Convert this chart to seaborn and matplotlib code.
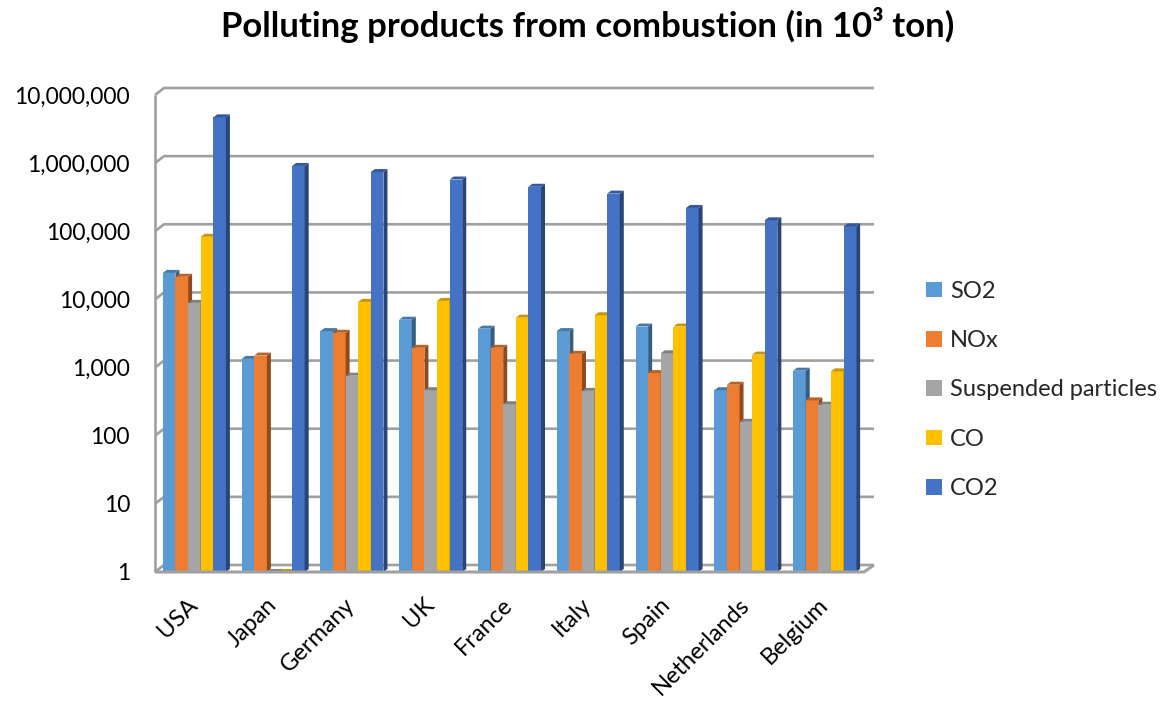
import numpy as np
import pandas as pd
import matplotlib
matplotlib.use("Agg")
import matplotlib.pyplot as plt
import matplotlib.colors as mcolors
from matplotlib.lines import Line2D
from matplotlib.patches import Polygon, Patch
from matplotlib.transforms import IdentityTransform
from matplotlib.ticker import NullLocator
import seaborn as sns

# ---- data (thousand tons) ----
countries = ["USA", "Japan", "Germany", "UK", "France", "Italy", "Spain",
             "Netherlands", "Belgium"]
pollutants = ["SO2", "NOx", "Suspended particles", "CO", "CO2"]
so2 = [24500, 1340, 3430, 5040, 3720, 3430, 4000, 465, 900]
nox = [21500, 1500, 3240, 1950, 1950, 1590, 830, 560, 330]
particles = [8900, 1, 760, 465, 290, 455, 1620, 160, 285]
co = [83000, 1, 9200, 9500, 5400, 5850, 4000, 1550, 880]
co2 = [4700000, 910000, 740000, 575000, 450000, 357000, 220000, 145000, 118000]
tick_values = [1, 10, 100, 1000, 10000, 100000, 1000000, 10000000]
tick_labels = ["1", "10", "100", "1,000", "10,000", "100,000", "1,000,000",
               "10,000,000"]
colors = ["#5B9BD5", "#ED7D31", "#A5A5A5", "#FFC000", "#4472C4"]

df = pd.DataFrame({
    "country": np.tile(countries, len(pollutants)),
    "pollutant": np.repeat(pollutants, len(countries)),
    "value": np.concatenate([so2, nox, particles, co, co2]),
})

sns.set_theme(style="white")
plt.rcParams["font.family"] = ["Lato", "DejaVu Sans"]

W, H = 1174, 702
fig = plt.figure(figsize=(W / 100, H / 100), dpi=100)
# front plane of the plot box, in pixels
left, right, bottom, top = 155, 864, 572, 95
ax = fig.add_axes([left / W, 1 - bottom / H, (right - left) / W, (bottom - top) / H])
ax.patch.set_visible(False)

sns.barplot(data=df, x="country", y="value", hue="pollutant",
            hue_order=pollutants, order=countries, palette=colors,
            width=0.8, saturation=1, log_scale=True, linewidth=0,
            legend=False, ax=ax)

ax.set_ylim(1, 1e7)
ax.set_xlim(-0.5, len(countries) - 0.5)
ax.yaxis.set_minor_locator(NullLocator())
ax.set_yticks(tick_values)
ax.set_yticklabels(tick_labels, fontsize=16.5, color="#000000")
ax.set_xticks(range(len(countries)))
ax.set_xticklabels(countries, rotation=45, ha="right", va="center",
                   rotation_mode="anchor", fontsize=17, color="#000000")
ax.tick_params(axis="y", length=0, pad=18)
ax.tick_params(axis="x", length=0, pad=21)
ax.set_xlabel("")
ax.set_ylabel("")
for s in ax.spines.values():
    s.set_visible(False)

to_px = ax.transData.transform
grid_c = "#A0A0A0"
gdx, gdy = 9, 7

def px_line(xs, ys, lw=1.9, z=1):
    ln = Line2D(xs, ys, color=grid_c, lw=lw, transform=IdentityTransform(),
                zorder=z, clip_on=False, solid_capstyle="butt")
    ax.add_line(ln)

# back wall gridlines with the diagonal wall edges on the left
x_front_l = to_px((-0.5, 1))[0]
x_front_r = to_px((len(countries) - 0.5, 1))[0]
for t in tick_values:
    yp = to_px((0, t))[1]
    px_line([x_front_l, x_front_l + gdx, x_front_r + gdx + 1],
            [yp, yp + gdy, yp + gdy])
y_lo = to_px((0, 1))[1]
y_hi = to_px((0, 1e7))[1]
px_line([x_front_l, x_front_l], [y_lo, y_hi])
# floor front edge and right corner
px_line([x_front_l, x_front_r, x_front_r + gdx + 1],
        [y_lo, y_lo, y_lo + gdy], lw=2.2, z=20)

# bars start at the floor value 1; shaded side and top faces give them depth
bdx, bdy = 4, 3
for i, cont in enumerate(ax.containers):
    base = np.array(mcolors.to_rgb(colors[i]))
    side_c = base * 0.6
    top_c = base * 0.78
    for bar in cont:
        bb = bar.get_bbox()
        xl, xr = min(bb.x0, bb.x1), max(bb.x0, bb.x1)
        yt = max(bb.y0, bb.y1, 1)
        bar.set_y(1)
        bar.set_height(yt - 1)
        bar.set_zorder(3 + 2 * i)
        pxl, pyt = to_px((xl, yt))
        pxr, pyb = to_px((xr, 1))
        side = Polygon([(pxr, pyb), (pxr + bdx, pyb + bdy), (pxr + bdx, pyt + bdy),
                        (pxr, pyt)], closed=True, facecolor=side_c, edgecolor="none",
                       transform=IdentityTransform(), zorder=4 + 2 * i, clip_on=False)
        cap = Polygon([(pxl, pyt), (pxl + bdx, pyt + bdy), (pxr + bdx, pyt + bdy),
                       (pxr, pyt)], closed=True, facecolor=top_c, edgecolor="none",
                      transform=IdentityTransform(), zorder=4 + 2 * i, clip_on=False)
        ax.add_patch(side)
        ax.add_patch(cap)

handles = [Patch(facecolor=c, edgecolor="none") for c in colors]
fig.legend(handles, pollutants, loc="center left",
           bbox_to_anchor=(917 / W, 1 - 390 / H), frameon=False, fontsize=17,
           handlelength=0.65, handleheight=0.65, handletextpad=0.35,
           labelspacing=1.2, borderaxespad=0)

fig.text(588 / W, 1 - 25 / H, "Polluting products from combustion (in 10³ ton)",
         ha="center", va="center", fontsize=25, fontweight="bold", color="#000000")

fig.savefig("out.png", dpi=100)
